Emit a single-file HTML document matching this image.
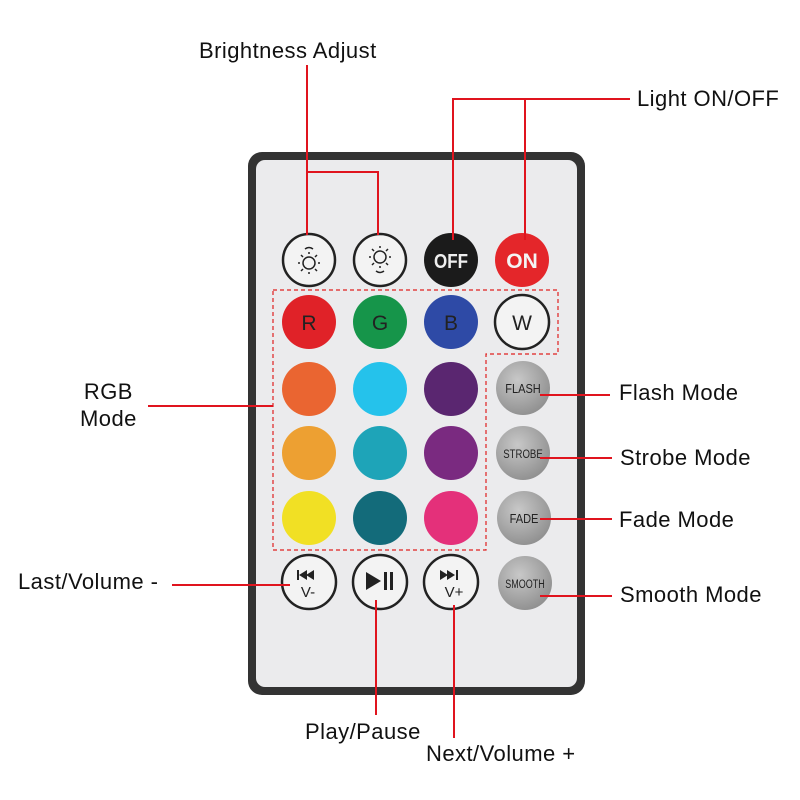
<!DOCTYPE html>
<html><head><style>
body{margin:0;background:#fff;width:800px;height:800px;overflow:hidden;position:relative;font-family:"Liberation Sans",sans-serif}
.t{position:absolute;font-size:22px;letter-spacing:0.45px;color:#111;white-space:nowrap;line-height:1}
</style></head><body>
<svg width="800" height="800" style="position:absolute;left:0;top:0" font-family="Liberation Sans, sans-serif">
<defs>
<radialGradient id="gr" cx="0.4" cy="0.35" r="0.7"><stop offset="0" stop-color="#c8c8c8"/><stop offset="1" stop-color="#8e8e8e"/></radialGradient>
</defs>
<rect x="248" y="152" width="337" height="543" rx="14" fill="#333"/>
<rect x="256" y="160" width="321" height="527" rx="9" fill="#ebebed"/>
<!-- top row -->
<circle cx="309" cy="260" r="26" fill="#f3f3f3" stroke="#222" stroke-width="2.5"/>
<circle cx="380" cy="260" r="26" fill="#f3f3f3" stroke="#222" stroke-width="2.5"/>
<g stroke="#222" stroke-width="1.5" fill="none">
<circle cx="309" cy="263" r="6"/><circle cx="380" cy="257" r="6"/>
<path d="M305 249 q4 -3 8 0 M376 271 q4 3 8 0"/>
<path d="M309 254 v-2 M309 272 v2 M300 263 h-2 M318 263 h2 M303 257 l-2 -2 M315 257 l2 -2 M303 269 l-2 2 M315 269 l2 2"/>
<path d="M380 248 v-2 M380 266 v2 M371 257 h-2 M389 257 h2 M374 251 l-2 -2 M386 251 l2 -2 M374 263 l-2 2 M386 263 l2 2"/>
</g>
<circle cx="451" cy="260" r="27" fill="#1b1b1b"/>
<text x="451" y="268" fill="#eee" font-size="20" font-weight="bold" text-anchor="middle" transform="translate(451 0) scale(0.85 1) translate(-451 0)">OFF</text>
<circle cx="522" cy="260" r="27" fill="#e4262a"/>
<text x="522" y="268" fill="#f4f4f4" font-size="21" font-weight="bold" text-anchor="middle">ON</text>
<!-- color grid -->
<g>
<circle cx="309" cy="322" r="27" fill="#e02228"/><circle cx="380" cy="322" r="27" fill="#16954a"/><circle cx="451" cy="322" r="27" fill="#2e4aa6"/>
<circle cx="522" cy="322" r="27" fill="#f3f3f3" stroke="#222" stroke-width="2.5"/>
<circle cx="309" cy="389" r="27" fill="#ea6531"/><circle cx="380" cy="389" r="27" fill="#25c2eb"/><circle cx="451" cy="389" r="27" fill="#5a2670"/>
<circle cx="309" cy="453" r="27" fill="#eda032"/><circle cx="380" cy="453" r="27" fill="#1ea4b8"/><circle cx="451" cy="453" r="27" fill="#7a2a80"/>
<circle cx="309" cy="518" r="27" fill="#f1e024"/><circle cx="380" cy="518" r="27" fill="#136b7a"/><circle cx="451" cy="518" r="27" fill="#e4307a"/>
</g>
<g font-size="21" fill="#222" text-anchor="middle">
<text x="309" y="330">R</text><text x="380" y="330">G</text><text x="451" y="330">B</text><text x="522" y="330">W</text>
</g>
<g fill="url(#gr)">
<circle cx="523" cy="388" r="27"/><circle cx="523" cy="453" r="27"/><circle cx="524" cy="518" r="27"/><circle cx="525" cy="583" r="27"/>
</g>
<g font-size="13" fill="#222" text-anchor="middle">
<text x="523" y="393" transform="translate(523 0) scale(0.85 1) translate(-523 0)">FLASH</text>
<text x="523" y="458" font-size="12" transform="translate(523 0) scale(0.8 1) translate(-523 0)">STROBE</text>
<text x="524" y="523" transform="translate(524 0) scale(0.85 1) translate(-524 0)">FADE</text>
<text x="525" y="588" font-size="12" transform="translate(525 0) scale(0.75 1) translate(-525 0)">SMOOTH</text>
</g>
<!-- media -->
<g fill="#f3f3f3" stroke="#222" stroke-width="2.5">
<circle cx="309" cy="582" r="27"/><circle cx="380" cy="582" r="27"/><circle cx="451" cy="582" r="27"/>
</g>
<g fill="#222">
<rect x="297" y="570" width="2" height="10"/><path d="M299 575 l8 -5 v10z M306 575 l8 -5 v10z"/>
<path d="M366 572 v18 l15 -9z"/><rect x="384" y="572" width="3" height="18"/><rect x="390" y="572" width="3" height="18"/>
<path d="M440 570 l8 5 l-8 5z M447 570 l8 5 l-8 5z"/><rect x="456" y="570" width="2" height="10"/>
</g>
<g font-size="15" fill="#222" text-anchor="middle"><text x="308" y="597">V-</text><text x="454" y="597">V+</text></g>
<!-- dashed box -->
<path d="M273 290 H558 V354 H486 V550 H273 Z" fill="none" stroke="#e02020" stroke-width="1.2" stroke-dasharray="4 3"/>
<!-- leader lines -->
<g stroke="#e0141e" stroke-width="2" fill="none">
<path d="M307 65 V235 M307 172 H378 V235"/>
<path d="M630 99 H453 V240 M525 99 V240"/>
<path d="M148 406 H273"/>
<path d="M540 395 H610 M540 458 H612 M540 519 H612 M540 596 H612"/>
<path d="M172 585 H290"/>
<path d="M376 600 V715 M454 605 V738"/>
</g>
</svg>
<div class="t" style="left:199px;top:40px">Brightness Adjust</div>
<div class="t" style="left:637px;top:88px">Light ON/OFF</div>
<div class="t" style="left:80px;top:378px;text-align:center;line-height:27px">RGB<br>Mode</div>
<div class="t" style="left:619px;top:382px">Flash Mode</div>
<div class="t" style="left:620px;top:447px">Strobe Mode</div>
<div class="t" style="left:619px;top:509px">Fade Mode</div>
<div class="t" style="left:620px;top:584px">Smooth Mode</div>
<div class="t" style="left:18px;top:571px">Last/Volume -</div>
<div class="t" style="left:305px;top:721px">Play/Pause</div>
<div class="t" style="left:426px;top:743px">Next/Volume +</div>
</body></html>
